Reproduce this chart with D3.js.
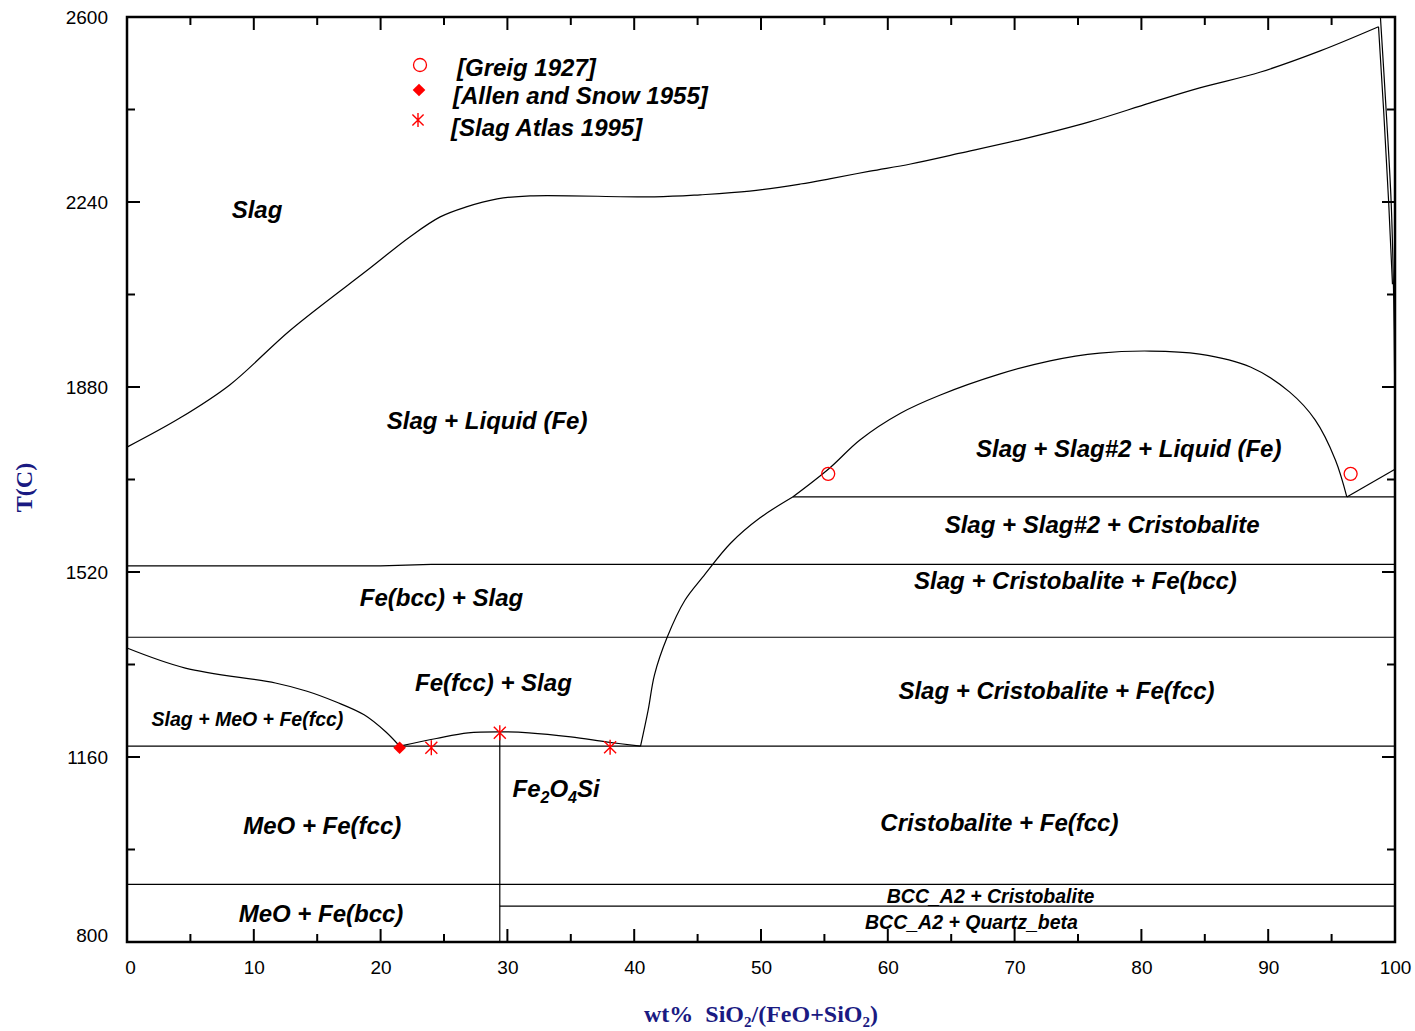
<!DOCTYPE html>
<html>
<head>
<meta charset="utf-8">
<script src="https://cdn.jsdelivr.net/npm/d3@7"></script>
<style>
  body { margin: 0; background: #fff; }
  svg { display: block; }
  .boundary { fill: none; stroke: #000; stroke-width: 1.2; }
  .phase { font-family: "Liberation Sans", Arial, sans-serif; font-weight: bold; font-style: italic; fill: #000; }
  .tick text { font-family: "Liberation Sans", Arial, sans-serif; font-size: 19px; fill: #000; }
  .axisTitle { font-family: "Liberation Serif", "Times New Roman", serif; font-weight: bold; font-size: 24px; fill: #1a1a82; }
</style>
</head>
<body>
<script>
// boundaries, [wt% SiO2, T in C]
const LIQUIDUS_TOP = [[0, 1763], [4.2, 1820], [8.1, 1884], [12.9, 1991], [19.2, 2112], [22.3, 2172], [24.7, 2211],
  [26.7, 2230], [29.2, 2246], [31.8, 2252], [41.6, 2250], [45.2, 2254], [49.1, 2261], [53.1, 2275], [55.4, 2285],
  [58.6, 2300], [61.8, 2314], [65.7, 2335], [70.4, 2361], [75.9, 2396], [80.7, 2433], [84.6, 2462], [89.4, 2493],
  [94.1, 2534], [98.7, 2581]];
const LIQUIDUS_TAIL = [[98.7, 2581], [99.1, 2420], [99.5, 2240], [99.8, 2080]];
const LIQUIDUS_SIO2 = [[98.85, 2600], [99.3, 2419], [99.7, 2238], [99.9, 2049], [99.97, 1900]];
const GAP_DOME = [[52.5, 1666], [55.4, 1722], [57.8, 1777], [61, 1829], [64.1, 1864], [68.8, 1905], [72.8, 1931],
  [76.7, 1946], [80.7, 1950], [84.6, 1944], [88.6, 1919], [91.7, 1870], [93.7, 1816], [95.3, 1738], [96.2, 1666]];
const GAP_RIGHT = [[96.2, 1666], [100, 1720]];
const CRISTOBALITE_LIQ = [[52.5, 1666], [49.9, 1625], [47.6, 1576], [45.4, 1510], [44.0, 1465], [42.6, 1393],
  [41.6, 1320], [41.1, 1251], [40.5, 1181]];
const FCC_LIQ = [[0, 1372], [4.6, 1333], [11.7, 1304], [14.2, 1288], [16.5, 1267], [18.7, 1242], [20.4, 1209], [21.5, 1181]];
const FAYALITE_LIQ = [[21.5, 1181], [24.4, 1196], [26.9, 1207], [29.4, 1209], [31.7, 1207], [35, 1199], [37.9, 1189], [40.5, 1181]];
const FAYALITE = [[29.4, 1209], [29.4, 800]];
const ISOTHERMS = [
  [[52.5, 1666], [100, 1666]],
  [[0, 1532], [20, 1532], [24, 1535], [100, 1535]],
  [[0, 1393], [100, 1393]],
  [[0, 1181], [100, 1181]],
  [[0, 912], [100, 912]],
  [[29.4, 870], [100, 870]]
];

const GREIG = [[55.3, 1711], [96.5, 1711]];
const ALLEN_SNOW = [[21.5, 1178]];
const SLAG_ATLAS = [[24.0, 1178], [29.4, 1207], [38.1, 1179]];
const LEGEND = ["[Greig 1927]", "[Allen and Snow 1955]", "[Slag Atlas 1995]"];

const LABELS = [
  { text: "Slag", x: 10.25, t: 2209 },
  { text: "Slag + Liquid (Fe)", x: 28.4, t: 1798 },
  { text: "Slag + Slag#2 + Liquid (Fe)", x: 79.0, t: 1744 },
  { text: "Slag + Slag#2 + Cristobalite", x: 76.9, t: 1596 },
  { text: "Slag + Cristobalite + Fe(bcc)", x: 74.8, t: 1487 },
  { text: "Fe(bcc) + Slag", x: 24.8, t: 1454 },
  { text: "Fe(fcc) + Slag", x: 28.9, t: 1288 },
  { text: "Slag + Cristobalite + Fe(fcc)", x: 73.3, t: 1273 },
  { text: "Slag + MeO + Fe(fcc)", x: 9.5, t: 1220, small: true },
  { text: "MeO + Fe(fcc)", x: 15.4, t: 1010 },
  { text: "Cristobalite + Fe(fcc)", x: 68.8, t: 1016 },
  { text: "MeO + Fe(bcc)", x: 15.3, t: 839 },
  { text: "BCC_A2 + Cristobalite", x: 68.1, t: 876, small: true },
  { text: "BCC_A2 + Quartz_beta", x: 66.6, t: 825, small: true }
];

const X_TICKS = d3.range(0, 101, 10);
const Y_TICKS = [800, 1160, 1520, 1880, 2240, 2600];

const width = 1415, height = 1031;
const plot = { left: 127, right: 1395, top: 17, bottom: 942 };

const x = d3.scaleLinear().domain([0, 100]).range([plot.left, plot.right]);
const y = d3.scaleLinear().domain([800, 2600]).range([plot.bottom, plot.top]);

const svg = d3.select("body").append("svg")
  .attr("width", width)
  .attr("height", height);

const line = d3.line().x(d => x(d[0])).y(d => y(d[1]));
const curve = d3.line().x(d => x(d[0])).y(d => y(d[1])).curve(d3.curveCatmullRom.alpha(0.5));

// phase boundaries
const bounds = svg.append("g");
[LIQUIDUS_TOP, GAP_DOME, CRISTOBALITE_LIQ, FCC_LIQ, FAYALITE_LIQ]
  .forEach(pts => bounds.append("path").attr("class", "boundary").attr("d", curve(pts)));
[LIQUIDUS_TAIL, GAP_RIGHT, FAYALITE, ...ISOTHERMS]
  .forEach(pts => bounds.append("path").attr("class", "boundary").attr("d", line(pts)));
bounds.append("path").attr("class", "boundary").attr("stroke-width", 2.2).attr("d", curve(LIQUIDUS_SIO2));

// frame with inward ticks
const tickLen = major => major ? 13 : 8;
const axes = svg.append("g").attr("stroke", "#000");
axes.append("rect")
  .attr("x", plot.left).attr("y", plot.top)
  .attr("width", plot.right - plot.left).attr("height", plot.bottom - plot.top)
  .attr("fill", "none").attr("stroke-width", 2.5);

d3.range(0, 101, 5).forEach(v => {
  const L = tickLen(v % 10 === 0);
  axes.append("line").attr("x1", x(v)).attr("x2", x(v)).attr("y1", plot.bottom).attr("y2", plot.bottom - L).attr("stroke-width", 2);
  axes.append("line").attr("x1", x(v)).attr("x2", x(v)).attr("y1", plot.top).attr("y2", plot.top + L).attr("stroke-width", 2);
});
d3.range(800, 2601, 180).forEach(v => {
  const L = tickLen((v - 800) % 360 === 0);
  axes.append("line").attr("y1", y(v)).attr("y2", y(v)).attr("x1", plot.left).attr("x2", plot.left + L).attr("stroke-width", 2);
  axes.append("line").attr("y1", y(v)).attr("y2", y(v)).attr("x1", plot.right).attr("x2", plot.right - L).attr("stroke-width", 2);
});

// tick labels via d3 axes, lines hidden
svg.append("g")
  .attr("transform", `translate(0,${plot.bottom})`)
  .call(d3.axisBottom(x).tickValues(X_TICKS).tickFormat(d3.format("d")).tickSize(0).tickPadding(19))
  .call(g => g.select(".domain").remove())
  .call(g => g.selectAll(".tick text").attr("dx", d => d === 0 ? 3 : 0));
svg.append("g")
  .attr("transform", `translate(${plot.left},0)`)
  .call(d3.axisLeft(y).tickValues(Y_TICKS).tickFormat(d3.format("d")).tickSize(0).tickPadding(19))
  .call(g => g.select(".domain").remove())
  .call(g => g.selectAll(".tick text").attr("dy", d => d === 800 ? "-0.05em" : "0.32em"));
svg.selectAll(".tick text").attr("font-size", null).attr("font-family", null);

// axis titles
svg.append("text")
  .attr("class", "axisTitle")
  .attr("transform", `translate(32,${(plot.top + plot.bottom) / 2 + 8}) rotate(-90)`)
  .attr("text-anchor", "middle")
  .text("T(C)");

const xt = svg.append("text")
  .attr("class", "axisTitle")
  .attr("x", (plot.left + plot.right) / 2)
  .attr("y", 1022)
  .attr("text-anchor", "middle");
[["wt%\u00a0\u00a0SiO", 0], ["2", 1], ["/(FeO+SiO", 0], ["2", 1], [")", 0]].forEach(([s, sub], i, arr) => {
  const prevSub = i > 0 && arr[i - 1][1];
  xt.append("tspan")
    .attr("dy", sub ? 5 : (prevSub ? -5 : 0))
    .attr("font-size", sub ? 15 : null)
    .text(s);
});

// phase labels
svg.append("g").selectAll("text")
  .data(LABELS)
  .join("text")
  .attr("class", "phase")
  .attr("x", d => x(d.x))
  .attr("y", d => y(d.t))
  .attr("text-anchor", "middle")
  .attr("font-size", d => d.small ? 19.5 : 24)
  .text(d => d.text);

const fe = svg.append("text")
  .attr("class", "phase")
  .attr("x", x(30.4))
  .attr("y", y(1082))
  .attr("font-size", 24);
[["Fe", 0], ["2", 1], ["O", 0], ["4", 1], ["Si", 0]].forEach(([s, sub], i, arr) => {
  const prevSub = i > 0 && arr[i - 1][1];
  fe.append("tspan")
    .attr("dy", sub ? 6 : (prevSub ? -6 : 0))
    .attr("font-size", sub ? 16 : null)
    .text(s);
});

// experimental points
const asterisk = (cx, cy, r) => {
  const a = r * 0.8;
  return `M${cx},${cy - r}L${cx},${cy + r}M${cx - a},${cy - a}L${cx + a},${cy + a}M${cx - a},${cy + a}L${cx + a},${cy - a}`;
};
const diamond = d3.symbol(d3.symbolSquare, 80);

const pts = svg.append("g");
pts.selectAll("circle")
  .data(GREIG)
  .join("circle")
  .attr("cx", d => x(d[0]))
  .attr("cy", d => y(d[1]))
  .attr("r", 6.5)
  .attr("fill", "none")
  .attr("stroke", "red")
  .attr("stroke-width", 1.3);
pts.selectAll(".allen")
  .data(ALLEN_SNOW)
  .join("path")
  .attr("class", "allen")
  .attr("transform", d => `translate(${x(d[0])},${y(d[1])}) rotate(45)`)
  .attr("d", diamond)
  .attr("fill", "red");
pts.selectAll(".atlas")
  .data(SLAG_ATLAS)
  .join("path")
  .attr("class", "atlas")
  .attr("d", d => asterisk(x(d[0]), y(d[1]), 7.5))
  .attr("stroke", "red")
  .attr("stroke-width", 1.4);

// legend
const legend = svg.append("g");
legend.append("circle").attr("cx", 420).attr("cy", 65).attr("r", 6.5)
  .attr("fill", "none").attr("stroke", "red").attr("stroke-width", 1.3);
legend.append("path").attr("transform", "translate(419,90) rotate(45)").attr("d", diamond).attr("fill", "red");
legend.append("path").attr("d", asterisk(418, 120, 7)).attr("stroke", "red").attr("stroke-width", 1.4);
legend.selectAll("text")
  .data(LEGEND)
  .join("text")
  .attr("class", "phase")
  .attr("font-size", 24)
  .attr("x", (d, i) => [457, 453, 451][i])
  .attr("y", (d, i) => [76, 104, 136][i])
  .text(d => d);
</script>
</body>
</html>
